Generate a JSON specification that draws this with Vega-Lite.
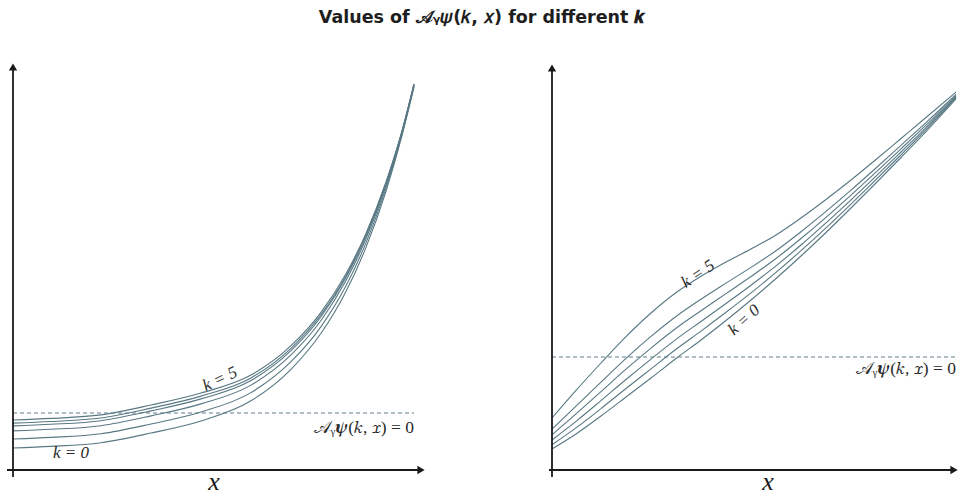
{
  "$schema": "https://vega.github.io/schema/vega-lite/v6.json",
  "background": "white",
  "padding": {"left": 6, "top": 8, "right": 1, "bottom": 4},
  "bounds": "flush",
  "spacing": 126,
  "title": {"text": "Values of 𝒜ᵧ𝜓(𝑘, 𝑥) for different 𝒌", "font": "DejaVu Sans", "fontSize": 17.5, "fontWeight": "bold", "color": "#1e1e1e", "anchor": "middle", "offset": 34},
  "config": {"view": {"stroke": null}},
  "datasets": {
    "leftCurves": [
      {"k":0,"x":0,"y":22},{"k":0,"x":38,"y":23.6},{"k":0,"x":88,"y":27.3},{"k":0,"x":138,"y":37},{"k":0,"x":188,"y":49},{"k":0,"x":238,"y":69.2},{"k":0,"x":278,"y":100.7},{"k":0,"x":308,"y":136.7},{"k":0,"x":333,"y":178.5},{"k":0,"x":353,"y":222.6},{"k":0,"x":373,"y":278.7},{"k":0,"x":388,"y":330.8},{"k":0,"x":401,"y":383},
      {"k":1,"x":0,"y":31},{"k":1,"x":38,"y":32.6},{"k":1,"x":88,"y":36.2},{"k":1,"x":138,"y":46},{"k":1,"x":188,"y":58},{"k":1,"x":238,"y":77.4},{"k":1,"x":278,"y":108.3},{"k":1,"x":308,"y":143.4},{"k":1,"x":333,"y":184.2},{"k":1,"x":353,"y":227.1},{"k":1,"x":373,"y":281.7},{"k":1,"x":388,"y":332.3},{"k":1,"x":401,"y":384},
      {"k":2,"x":0,"y":39.1},{"k":2,"x":38,"y":40.7},{"k":2,"x":88,"y":44.3},{"k":2,"x":138,"y":54.1},{"k":2,"x":188,"y":66.1},{"k":2,"x":238,"y":84.9},{"k":2,"x":278,"y":115.1},{"k":2,"x":308,"y":149.5},{"k":2,"x":333,"y":189.4},{"k":2,"x":353,"y":231.1},{"k":2,"x":373,"y":284.4},{"k":2,"x":388,"y":333.7},{"k":2,"x":401,"y":384.8},
      {"k":3,"x":0,"y":44.1},{"k":3,"x":38,"y":45.7},{"k":3,"x":88,"y":49.3},{"k":3,"x":138,"y":59.1},{"k":3,"x":188,"y":71.1},{"k":3,"x":238,"y":89.5},{"k":3,"x":278,"y":119.3},{"k":3,"x":308,"y":153.3},{"k":3,"x":333,"y":192.6},{"k":3,"x":353,"y":233.7},{"k":3,"x":373,"y":286},{"k":3,"x":388,"y":334.5},{"k":3,"x":401,"y":385.4},
      {"k":4,"x":0,"y":46.9},{"k":4,"x":38,"y":48.5},{"k":4,"x":88,"y":52},{"k":4,"x":138,"y":61.9},{"k":4,"x":188,"y":73.9},{"k":4,"x":238,"y":92.1},{"k":4,"x":278,"y":121.7},{"k":4,"x":308,"y":155.4},{"k":4,"x":333,"y":194.3},{"k":4,"x":353,"y":235.1},{"k":4,"x":373,"y":287},{"k":4,"x":388,"y":335},{"k":4,"x":401,"y":385.7},
      {"k":5,"x":0,"y":50},{"k":5,"x":38,"y":51.6},{"k":5,"x":88,"y":55.1},{"k":5,"x":138,"y":65},{"k":5,"x":188,"y":77},{"k":5,"x":238,"y":94.9},{"k":5,"x":278,"y":124.3},{"k":5,"x":308,"y":157.7},{"k":5,"x":333,"y":196.3},{"k":5,"x":353,"y":236.6},{"k":5,"x":373,"y":288},{"k":5,"x":388,"y":335.5},{"k":5,"x":401,"y":386}
    ],
    "rightCurves": [
      {"k":0,"x":0,"y":21},{"k":0,"x":24,"y":36},{"k":0,"x":49,"y":54},{"k":0,"x":74,"y":73},{"k":0,"x":99,"y":92},{"k":0,"x":126,"y":113},{"k":0,"x":149,"y":130},{"k":0,"x":174,"y":149.5},{"k":0,"x":199,"y":170},{"k":0,"x":224,"y":191.5},{"k":0,"x":249,"y":214},{"k":0,"x":274,"y":237.5},{"k":0,"x":299,"y":262},{"k":0,"x":324,"y":287},{"k":0,"x":349,"y":312.5},{"k":0,"x":374,"y":338.3},{"k":0,"x":404,"y":371},
      {"k":1,"x":0,"y":25.3},{"k":1,"x":24,"y":42.1},{"k":1,"x":49,"y":61.4},{"k":1,"x":74,"y":81.5},{"k":1,"x":99,"y":101.1},{"k":1,"x":126,"y":122.2},{"k":1,"x":149,"y":138.9},{"k":1,"x":174,"y":157.7},{"k":1,"x":199,"y":177.1},{"k":1,"x":224,"y":197.6},{"k":1,"x":249,"y":219.3},{"k":1,"x":274,"y":242.1},{"k":1,"x":299,"y":265.9},{"k":1,"x":324,"y":290.3},{"k":1,"x":349,"y":315.2},{"k":1,"x":374,"y":340.3},{"k":1,"x":404,"y":372},
      {"k":2,"x":0,"y":30},{"k":2,"x":24,"y":48.6},{"k":2,"x":49,"y":69.4},{"k":2,"x":74,"y":90.5},{"k":2,"x":99,"y":110.9},{"k":2,"x":126,"y":132.1},{"k":2,"x":149,"y":148.5},{"k":2,"x":174,"y":166.5},{"k":2,"x":199,"y":184.8},{"k":2,"x":224,"y":204.1},{"k":2,"x":249,"y":225},{"k":2,"x":274,"y":247.1},{"k":2,"x":299,"y":270.1},{"k":2,"x":324,"y":293.8},{"k":2,"x":349,"y":318},{"k":2,"x":374,"y":342.4},{"k":2,"x":404,"y":373},
      {"k":3,"x":0,"y":35.3},{"k":3,"x":24,"y":56.1},{"k":3,"x":49,"y":78.4},{"k":3,"x":74,"y":100.8},{"k":3,"x":99,"y":121.9},{"k":3,"x":126,"y":143.2},{"k":3,"x":149,"y":159.3},{"k":3,"x":174,"y":176.4},{"k":3,"x":199,"y":193.5},{"k":3,"x":224,"y":211.5},{"k":3,"x":249,"y":231.5},{"k":3,"x":274,"y":252.7},{"k":3,"x":299,"y":274.9},{"k":3,"x":324,"y":297.8},{"k":3,"x":349,"y":321.2},{"k":3,"x":374,"y":344.8},{"k":3,"x":404,"y":374.2},
      {"k":4,"x":0,"y":40.8},{"k":4,"x":24,"y":63.9},{"k":4,"x":49,"y":87.9},{"k":4,"x":74,"y":111.7},{"k":4,"x":99,"y":133.6},{"k":4,"x":126,"y":155},{"k":4,"x":149,"y":170.8},{"k":4,"x":174,"y":186.9},{"k":4,"x":199,"y":202.6},{"k":4,"x":224,"y":219.3},{"k":4,"x":249,"y":238.3},{"k":4,"x":274,"y":258.6},{"k":4,"x":299,"y":279.9},{"k":4,"x":324,"y":302},{"k":4,"x":349,"y":324.7},{"k":4,"x":374,"y":347.4},{"k":4,"x":404,"y":375.5},
      {"k":5,"x":0,"y":52},{"k":5,"x":24,"y":79.6},{"k":5,"x":49,"y":107},{"k":5,"x":74,"y":133.4},{"k":5,"x":99,"y":157},{"k":5,"x":126,"y":178.7},{"k":5,"x":149,"y":193.7},{"k":5,"x":174,"y":208},{"k":5,"x":199,"y":221},{"k":5,"x":224,"y":235},{"k":5,"x":249,"y":252},{"k":5,"x":274,"y":270.5},{"k":5,"x":299,"y":290},{"k":5,"x":324,"y":310.5},{"k":5,"x":349,"y":331.5},{"k":5,"x":374,"y":352.5},{"k":5,"x":404,"y":378}
    ]
  },
  "hconcat": [
    {
      "width": 413,
      "height": 410,
      "layer": [
        {
          "data": {"name": "leftCurves"},
          "mark": {"type": "line", "color": "#587883", "strokeWidth": 1.1, "interpolate": "monotone"},
          "encoding": {
            "x": {"field": "x", "type": "quantitative", "scale": {"domain": [0, 413], "nice": false, "zero": false}, "axis": null},
            "y": {"field": "y", "type": "quantitative", "scale": {"domain": [0, 410], "nice": false, "zero": false}, "axis": null},
            "detail": {"field": "k"}
          }
        },
        {
          "data": {"values": [{"x": 0, "x2": 401, "y": 57}]},
          "mark": {"type": "rule", "color": "#5f7f8a", "strokeWidth": 1.2, "strokeDash": [4, 3]},
          "encoding": {"x": {"field": "x", "type": "quantitative"}, "x2": {"field": "x2"}, "y": {"field": "y", "type": "quantitative"}}
        },
        {
          "data": {"values": [{"x": -6, "x2": 405, "y": 0}]},
          "mark": {"type": "rule", "color": "#1a1a1a", "strokeWidth": 1.8},
          "encoding": {"x": {"field": "x", "type": "quantitative"}, "x2": {"field": "x2"}, "y": {"field": "y", "type": "quantitative"}}
        },
        {
          "data": {"values": [{"x": 0, "y": -7, "y2": 400}]},
          "mark": {"type": "rule", "color": "#1a1a1a", "strokeWidth": 1.8},
          "encoding": {"x": {"field": "x", "type": "quantitative"}, "y": {"field": "y", "type": "quantitative"}, "y2": {"field": "y2"}}
        },
        {
          "data": {"values": [{"x": 408, "y": 0}]},
          "mark": {"type": "point", "shape": "triangle-right", "filled": true, "color": "#1a1a1a", "size": 70, "opacity": 1},
          "encoding": {"x": {"field": "x", "type": "quantitative"}, "y": {"field": "y", "type": "quantitative"}}
        },
        {
          "data": {"values": [{"x": 0, "y": 403}]},
          "mark": {"type": "point", "shape": "triangle-up", "filled": true, "color": "#1a1a1a", "size": 70, "opacity": 1},
          "encoding": {"x": {"field": "x", "type": "quantitative"}, "y": {"field": "y", "type": "quantitative"}}
        },
        {
          "data": {"values": [{"t": "x", "x": 201, "y": -12}]},
          "mark": {"type": "text", "font": "Liberation Serif", "fontStyle": "italic", "fontSize": 26, "color": "#1a1a1a", "align": "center", "baseline": "middle"},
          "encoding": {"x": {"field": "x", "type": "quantitative"}, "y": {"field": "y", "type": "quantitative"}, "text": {"field": "t"}}
        },
        {
          "data": {"values": [{"t": "k = 0", "x": 58, "y": 17}]},
          "mark": {"type": "text", "font": "Liberation Serif", "fontStyle": "italic", "fontSize": 17, "color": "#2a2a2a", "align": "center", "baseline": "middle"},
          "encoding": {"x": {"field": "x", "type": "quantitative"}, "y": {"field": "y", "type": "quantitative"}, "text": {"field": "t"}}
        },
        {
          "data": {"values": [{"t": "k = 5", "x": 207, "y": 91}]},
          "mark": {"type": "text", "font": "Liberation Serif", "fontStyle": "italic", "fontSize": 17, "color": "#2a2a2a", "align": "center", "baseline": "middle", "angle": 335},
          "encoding": {"x": {"field": "x", "type": "quantitative"}, "y": {"field": "y", "type": "quantitative"}, "text": {"field": "t"}}
        },
        {
          "data": {"values": [{"t": "𝒜ᵧ𝝍(𝑘, 𝑥) = 0", "x": 401, "y": 42}]},
          "mark": {"type": "text", "font": "Liberation Serif", "fontSize": 17.5, "color": "#2a2a2a", "align": "right", "baseline": "middle"},
          "encoding": {"x": {"field": "x", "type": "quantitative"}, "y": {"field": "y", "type": "quantitative"}, "text": {"field": "t"}}
        }
      ]
    },
    {
      "width": 406,
      "height": 410,
      "layer": [
        {
          "data": {"name": "rightCurves"},
          "mark": {"type": "line", "color": "#587883", "strokeWidth": 1.1, "interpolate": "monotone"},
          "encoding": {
            "x": {"field": "x", "type": "quantitative", "scale": {"domain": [0, 406], "nice": false, "zero": false}, "axis": null},
            "y": {"field": "y", "type": "quantitative", "scale": {"domain": [0, 410], "nice": false, "zero": false}, "axis": null},
            "detail": {"field": "k"}
          }
        },
        {
          "data": {"values": [{"x": 0, "x2": 404, "y": 113}]},
          "mark": {"type": "rule", "color": "#5f7f8a", "strokeWidth": 1.2, "strokeDash": [4, 3]},
          "encoding": {"x": {"field": "x", "type": "quantitative"}, "x2": {"field": "x2"}, "y": {"field": "y", "type": "quantitative"}}
        },
        {
          "data": {"values": [{"x": -3, "x2": 399, "y": 0}]},
          "mark": {"type": "rule", "color": "#1a1a1a", "strokeWidth": 1.8},
          "encoding": {"x": {"field": "x", "type": "quantitative"}, "x2": {"field": "x2"}, "y": {"field": "y", "type": "quantitative"}}
        },
        {
          "data": {"values": [{"x": 0, "y": -7, "y2": 399}]},
          "mark": {"type": "rule", "color": "#1a1a1a", "strokeWidth": 1.8},
          "encoding": {"x": {"field": "x", "type": "quantitative"}, "y": {"field": "y", "type": "quantitative"}, "y2": {"field": "y2"}}
        },
        {
          "data": {"values": [{"x": 402, "y": 0}]},
          "mark": {"type": "point", "shape": "triangle-right", "filled": true, "color": "#1a1a1a", "size": 70, "opacity": 1},
          "encoding": {"x": {"field": "x", "type": "quantitative"}, "y": {"field": "y", "type": "quantitative"}}
        },
        {
          "data": {"values": [{"x": 0, "y": 402}]},
          "mark": {"type": "point", "shape": "triangle-up", "filled": true, "color": "#1a1a1a", "size": 70, "opacity": 1},
          "encoding": {"x": {"field": "x", "type": "quantitative"}, "y": {"field": "y", "type": "quantitative"}}
        },
        {
          "data": {"values": [{"t": "x", "x": 216, "y": -12}]},
          "mark": {"type": "text", "font": "Liberation Serif", "fontStyle": "italic", "fontSize": 26, "color": "#1a1a1a", "align": "center", "baseline": "middle"},
          "encoding": {"x": {"field": "x", "type": "quantitative"}, "y": {"field": "y", "type": "quantitative"}, "text": {"field": "t"}}
        },
        {
          "data": {"values": [{"t": "k = 5", "x": 146, "y": 196}]},
          "mark": {"type": "text", "font": "Liberation Serif", "fontStyle": "italic", "fontSize": 17, "color": "#2a2a2a", "align": "center", "baseline": "middle", "angle": 326},
          "encoding": {"x": {"field": "x", "type": "quantitative"}, "y": {"field": "y", "type": "quantitative"}, "text": {"field": "t"}}
        },
        {
          "data": {"values": [{"t": "k = 0", "x": 192, "y": 150}]},
          "mark": {"type": "text", "font": "Liberation Serif", "fontStyle": "italic", "fontSize": 17, "color": "#2a2a2a", "align": "center", "baseline": "middle", "angle": 318},
          "encoding": {"x": {"field": "x", "type": "quantitative"}, "y": {"field": "y", "type": "quantitative"}, "text": {"field": "t"}}
        },
        {
          "data": {"values": [{"t": "𝒜ᵧ𝝍(𝑘, 𝑥) = 0", "x": 404, "y": 101}]},
          "mark": {"type": "text", "font": "Liberation Serif", "fontSize": 17.5, "color": "#2a2a2a", "align": "right", "baseline": "middle"},
          "encoding": {"x": {"field": "x", "type": "quantitative"}, "y": {"field": "y", "type": "quantitative"}, "text": {"field": "t"}}
        }
      ]
    }
  ]
}
